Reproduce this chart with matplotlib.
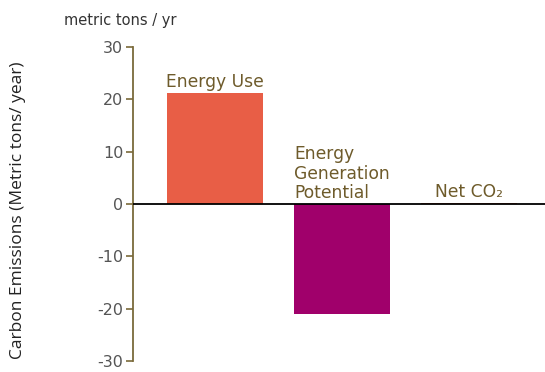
import matplotlib
matplotlib.use("Agg")
import matplotlib.pyplot as plt

categories = ["Energy Use", "Energy\nGeneration\nPotential", "Net CO\u2082"]
values = [21.2, -21.0, 0.2]
colors = ["#E85E46", "#A0006B", "#E85E46"]
yticks = [30, 20, 10, 0, -10, -20, -30]

fig = plt.figure(figsize=(5.45, 3.72), dpi=100)
ax = fig.add_axes([0.244, 0.03, 0.756, 0.844])

x = list(range(len(categories)))
width = 0.76
ax.bar(x, values, width=width, color=colors, zorder=2)
ax.set_xlim(-0.646, 2.6)
ax.set_ylim(-30, 30)

txtcol = "#6E5B2B"
for xi, v, c in zip(x, values, categories):
    y = max(v, 0) + 0.3
    ax.text(xi, y, c, ha="center", va="bottom", multialignment="left", color=txtcol,
            fontsize=12.3, linespacing=1.1, zorder=3)

ax.axhline(0, color="black", lw=1.3, zorder=4)

for s in ["top", "right", "bottom"]:
    ax.spines[s].set_visible(False)
ax.spines["left"].set_color("#7A6A3A")
ax.spines["left"].set_linewidth(1.3)
ax.set_xticks([])
ax.set_yticks(yticks)
ax.set_yticklabels([str(t) for t in yticks])
ax.tick_params(axis="y", colors="#7A6A3A", length=5, width=1.2, labelsize=11.5,
               labelcolor="#555555", pad=2)

fig.text(0.118, 0.925, "metric tons / yr", fontsize=10.5, color="#333333", ha="left", va="bottom")
fig.text(0.033, 0.435, "Carbon Emissions (Metric tons/ year)", rotation=90, fontsize=12.5,
         family="Open Sans", color="#222222", ha="center", va="center")

fig.savefig("out.png", dpi=100)
